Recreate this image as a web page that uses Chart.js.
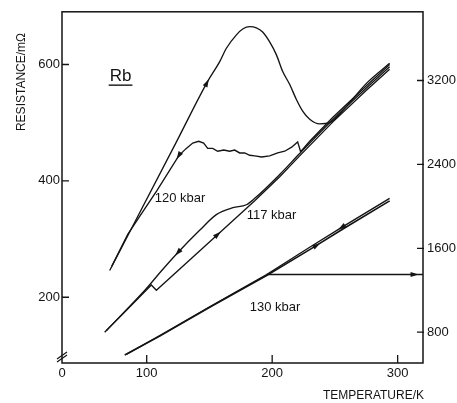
<!DOCTYPE html>
<html>
<head>
<meta charset="utf-8">
<script src="https://cdn.jsdelivr.net/npm/chart.js@4.4.1/dist/chart.umd.min.js"></script>
<style>
  html, body { margin: 0; padding: 0; background: #fff; }
  #wrap { width: 457px; height: 403px; }
</style>
</head>
<body>
<div id="wrap"><canvas id="c" width="457" height="403"></canvas></div>
<script>
// values (T in K, R in mOhm; 130 kbar on the right scale)
const t120Heat = [70.5, 123.9, 148.6, 158.2, 163.5, 171.5, 176.5, 182.1, 187.4, 192.4, 198.0, 203.3, 208.4, 213.9, 219.3, 224.3, 229.9, 237.8, 245.8, 253.8, 275.3, 293.6];
const r120Heat = [246, 468, 571, 605, 628, 651, 661, 665, 663, 656, 639, 617, 588, 566, 540, 520, 506, 498, 500, 515, 568, 602];

const t120Cool = [72.1, 84.9, 94.4, 108.0, 125.5, 131.1, 136.7, 141.4, 145.4, 148.6, 152.6, 156.6, 161.4, 166.1, 170.1, 174.1, 178.1, 182.1, 186.1, 191.6, 198.0, 204.4, 210.0, 215.5, 220.3, 222.7, 229.9, 248.2, 275.3, 293.6];
const r120Cool = [253, 308, 339, 383, 443, 455, 465, 468, 465, 456, 456, 451, 453, 451, 453, 448, 448, 444, 443, 441, 443, 448, 451, 458, 467, 450, 468, 509, 564, 600];

const t117Heat = [66.5, 103.7, 107.7, 156.6, 186.1, 206.0, 221.9, 248.2, 275.3, 293.6];
const r117Heat = [140, 221, 212, 308, 366, 407, 443, 501, 556, 592];

const t117Cool = [68.0, 99.8, 112.0, 124.9, 142.2, 155.5, 168.8, 179.4, 186.1, 206.0, 221.9, 248.2, 275.3, 293.6];
const r117Cool = [143, 215, 246, 277, 315, 342, 354, 359, 370, 411, 447, 505, 560, 596];

const t130Heat = [82.5, 110.4, 150.2, 174.1, 195.6, 229.9, 255.4, 293.6];
const r130Heat = [582, 762, 1037, 1198, 1341, 1587, 1777, 2052];
const t130Cool = [84.1, 110.4, 150.2, 174.1, 195.6, 229.9, 255.4, 293.6];
const r130Cool = [591, 767, 1042, 1203, 1350, 1610, 1800, 2075];

const tPointer = [195.6, 320.2];
const rPointer = [1350, 1350];

const xTicks = [100, 200, 300];
const yTicks = [200, 400, 600];
const y2Ticks = [800, 1600, 2400, 3200];

const INK = '#141414';
const FONT = '"Liberation Sans", Arial, sans-serif';

const pts = (ts, rs) => ts.map((t, i) => ({ x: t, y: rs[i] }));

function curve(ts, rs, extra) {
  return Object.assign({
    data: pts(ts, rs),
    showLine: true,
    borderColor: INK,
    borderWidth: 1.35,
    pointRadius: 0,
    fill: false,
    tension: 0,
    yAxisID: 'y'
  }, extra);
}

// arrowheads along a dataset at a given temperature, dir +1 = towards higher T
function drawHead(ctx, x, y, ang) {
  const L = 8, W = 2.6;
  ctx.save();
  ctx.translate(x, y);
  ctx.rotate(ang);
  ctx.beginPath();
  ctx.moveTo(L / 2, 0);
  ctx.lineTo(-L / 2, -W);
  ctx.lineTo(-L / 2, W);
  ctx.closePath();
  ctx.fill();
  ctx.restore();
}

const inkPlugin = {
  id: 'ink',
  afterDraw(chart) {
    const { ctx, chartArea: a, scales } = chart;
    ctx.save();
    ctx.strokeStyle = INK;
    ctx.fillStyle = INK;

    // frame
    ctx.lineWidth = 1.5;
    ctx.strokeRect(a.left, a.top, a.right - a.left, a.bottom - a.top);

    // inward tick marks
    ctx.lineWidth = 1.3;
    ctx.beginPath();
    xTicks.forEach(v => {
      const p = scales.x.getPixelForValue(v);
      ctx.moveTo(p, a.bottom); ctx.lineTo(p, a.bottom - 8);
    });
    yTicks.forEach(v => {
      const p = scales.y.getPixelForValue(v);
      ctx.moveTo(a.left, p); ctx.lineTo(a.left + 7, p);
    });
    y2Ticks.forEach(v => {
      const p = scales.y2.getPixelForValue(v);
      ctx.moveTo(a.right + 1, p); ctx.lineTo(a.right - 6, p);
    });
    ctx.stroke();

    // axis break on the resistance axis
    ctx.lineWidth = 1.2;
    ctx.beginPath();
    ctx.moveTo(a.left - 5, a.bottom - 4); ctx.lineTo(a.left + 5, a.bottom - 11);
    ctx.moveTo(a.left - 5, a.bottom - 1); ctx.lineTo(a.left + 5, a.bottom - 8);
    ctx.stroke();

    // arrows
    chart.data.datasets.forEach((ds, i) => {
      if (!ds.arrows) return;
      const el = chart.getDatasetMeta(i).data;
      ds.arrows.forEach(([t, dir]) => {
        const px = scales.x.getPixelForValue(t);
        for (let k = 0; k < el.length - 1; k++) {
          const p = el[k], q = el[k + 1];
          if ((p.x - px) * (q.x - px) <= 0 && p.x !== q.x) {
            const f = (px - p.x) / (q.x - p.x);
            let ang = Math.atan2(q.y - p.y, q.x - p.x);
            if (dir < 0) ang += Math.PI;
            drawHead(ctx, px, p.y + f * (q.y - p.y), ang);
            break;
          }
        }
      });
    });

    // in-plot labels, placed in data coordinates
    const at = (t, r) => [scales.x.getPixelForValue(t), scales.y.getPixelForValue(r)];
    ctx.textBaseline = 'middle';
    ctx.textAlign = 'left';
    ctx.font = '13px ' + FONT;
    [['120 kbar', 106.4, 369], ['117 kbar', 179.7, 340], ['130 kbar', 182.1, 183]].forEach(([s, t, r]) => {
      const [x, y] = at(t, r);
      ctx.fillText(s, x, y);
    });
    const [rx, ry] = at(70.5, 580);
    ctx.font = '17px ' + FONT;
    ctx.fillText('Rb', rx, ry);
    const w = ctx.measureText('Rb').width;
    ctx.lineWidth = 1.4;
    ctx.beginPath();
    ctx.moveTo(rx - 1, ry + 9); ctx.lineTo(rx + w + 1, ry + 9);
    ctx.stroke();

    // axis titles
    ctx.font = '12px ' + FONT;
    ctx.textAlign = 'right';
    ctx.fillText('TEMPERATURE/K', 424, 396);
    ctx.save();
    ctx.translate(22, 82);
    ctx.rotate(-Math.PI / 2);
    ctx.textAlign = 'center';
    ctx.fillText('RESISTANCE/m\u03A9', 0, 0);
    ctx.restore();

    ctx.restore();
  }
};

const xMin = 32.5;
const plain = v => String(v);

new Chart(document.getElementById('c'), {
  type: 'scatter',
  data: {
    datasets: [
      curve(t120Heat, r120Heat, { cubicInterpolationMode: 'monotone', arrows: [[148, 1]] }),
      curve(t120Cool, r120Cool, { arrows: [[125.5, -1]] }),
      curve(t117Heat, r117Heat, { arrows: [[156.6, 1]] }),
      curve(t117Cool, r117Cool, { cubicInterpolationMode: 'monotone', arrows: [[124.9, -1]] }),
      curve(t130Heat, r130Heat, { yAxisID: 'y2', borderWidth: 1.6, arrows: [[235.5, 1]] }),
      curve(t130Cool, r130Cool, { yAxisID: 'y2', borderWidth: 1.4, arrows: [[255.4, -1]] }),
      curve(tPointer, rPointer, { yAxisID: 'y2', borderWidth: 1.3, arrows: [[313.5, 1]] })
    ]
  },
  options: {
    responsive: false,
    animation: false,
    events: [],
    layout: { padding: { left: 0, right: 0, top: 10, bottom: 0 } },
    plugins: { legend: { display: false }, tooltip: { enabled: false } },
    scales: {
      x: {
        type: 'linear',
        min: xMin, max: 320.2,
        grid: { display: false, drawTicks: false },
        border: { display: false },
        afterBuildTicks: s => { s.ticks = [xMin].concat(xTicks).map(v => ({ value: v })); },
        afterFit: s => { s.height = 40; },
        ticks: {
          padding: 3, color: INK, font: { size: 13, family: FONT },
          maxRotation: 0, autoSkip: false,
          callback: v => (v === xMin ? '0' : String(v))
        }
      },
      y: {
        position: 'left',
        min: 87, max: 690.6,
        grid: { display: false, drawTicks: false },
        border: { display: false },
        afterBuildTicks: s => { s.ticks = yTicks.map(v => ({ value: v })); },
        afterFit: s => { s.width = 62; },
        ticks: { padding: 2, color: INK, font: { size: 13, family: FONT }, callback: plain }
      },
      y2: {
        position: 'right',
        min: 506, max: 3855,
        grid: { display: false, drawTicks: false },
        border: { display: false },
        afterBuildTicks: s => { s.ticks = y2Ticks.map(v => ({ value: v })); },
        afterFit: s => { s.width = 34; },
        ticks: { padding: 4, color: INK, font: { size: 13, family: FONT }, callback: plain }
      }
    }
  },
  plugins: [inkPlugin]
});
</script>
</body>
</html>
